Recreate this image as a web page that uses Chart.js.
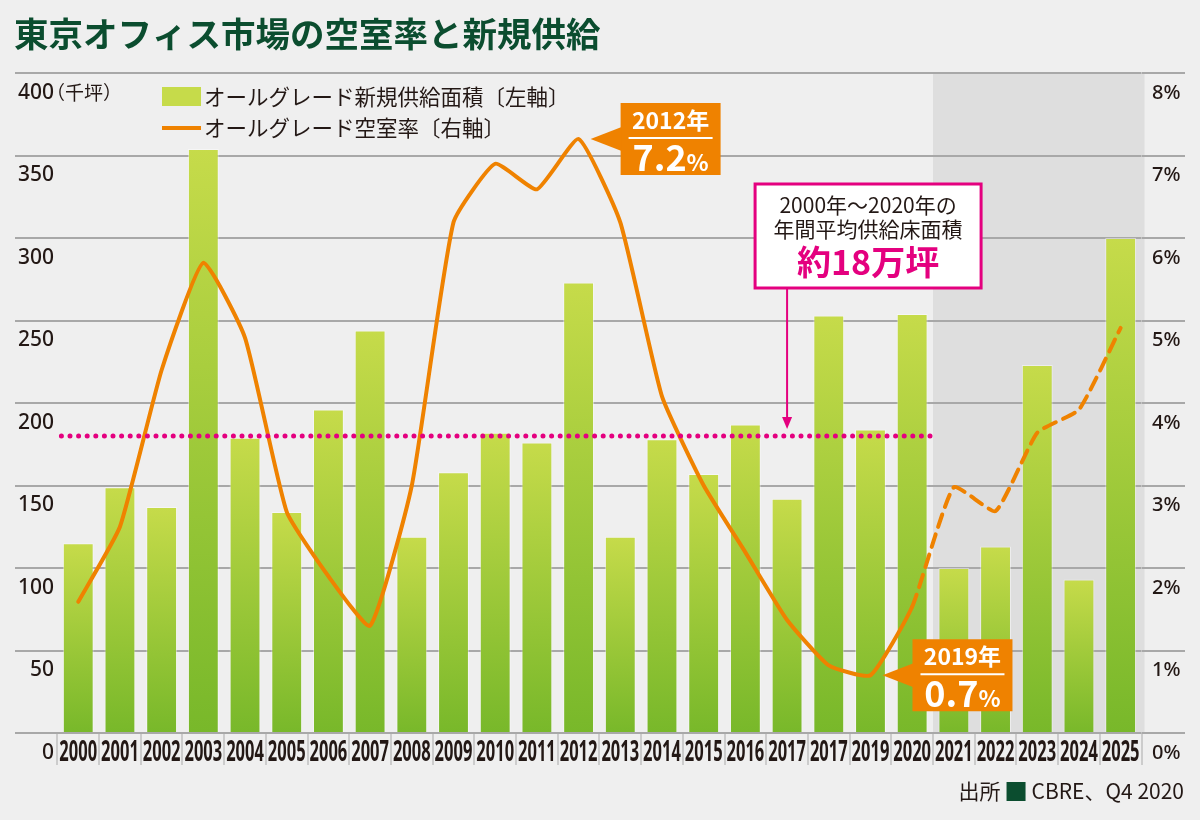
<!DOCTYPE html>
<html>
<head>
<meta charset="utf-8">
<script src="https://cdn.jsdelivr.net/npm/chart.js@4"></script>
<style>
  html, body { margin: 0; padding: 0; background: #efefef; }
  canvas { display: block; }
</style>
</head>
<body>
<canvas id="myChart" width="1200" height="820"></canvas>
<script>
// data
const categories = ['2000','2001','2002','2003','2004','2005','2006','2007','2008','2009','2010','2011','2012','2013','2014','2015','2016','2017','2017','2019','2020','2021','2022','2023','2024','2025'];
const supply = [115,149,137,354,179,134,196,244,119,158,182,176,273,119,178,157,187,142,253,184,254,100,113,223,93,300];   // 千坪
const vacancy = [1.59,2.50,4.40,5.70,4.79,2.68,1.90,1.30,3.00,6.19,6.90,6.59,7.20,6.19,4.08,3.00,2.19,1.37,0.82,0.70,1.53,2.98,2.69,3.64,3.92,4.91]; // %
const leftTicks = [0,50,100,150,200,250,300,350,400];
const rightTicks = [0,1,2,3,4,5,6,7,8];
const forecastFrom = 21;     // 2021 onwards shaded / dashed
const avgSupply = 180;       // 2000-2020 average
const avgUntil = 20;
const peakIdx = 12, lowIdx = 19;

const JP = '"Noto Sans CJK JP", "Noto Sans", sans-serif';
const SANS = '"Noto Sans", sans-serif';
const ORANGE = '#ef8200';
const PINK = '#e4007f';

Chart.defaults.color = '#231815';

function barGradient(context) {
  const chart = context.chart;
  const y = chart.scales.y;
  if (!y || !chart.chartArea) return '#9fcb3a';
  const top = y.getPixelForValue(context.raw);
  const bottom = y.getPixelForValue(0);
  const g = chart.ctx.createLinearGradient(0, top, 0, bottom);
  g.addColorStop(0, '#c6db4a');
  g.addColorStop(1, '#78b82a');
  return g;
}

function callout(ctx, px, py, label, big) {
  const bx = px + 42, by = py - 36, bw = 100, bh = 72;
  ctx.save();
  ctx.fillStyle = ORANGE;
  ctx.fillRect(bx, by, bw, bh);
  ctx.beginPath();
  ctx.moveTo(px + 12, py);
  ctx.lineTo(bx + 1, py - 12);
  ctx.lineTo(bx + 1, py + 12);
  ctx.closePath();
  ctx.fill();
  ctx.fillStyle = '#fff';
  ctx.textAlign = 'center';
  ctx.textBaseline = 'middle';
  ctx.font = 'bold 23px ' + JP;
  ctx.fillText(label, bx + bw / 2, by + 17);
  ctx.strokeStyle = '#fff';
  ctx.lineWidth = 2;
  ctx.beginPath();
  ctx.moveTo(bx + 8, by + 35);
  ctx.lineTo(bx + bw - 8, by + 35);
  ctx.stroke();
  ctx.font = 'bold 36px ' + JP;
  const w1 = ctx.measureText(big).width;
  ctx.font = 'bold 23px ' + JP;
  const w2 = ctx.measureText('%').width;
  const sx = bx + bw / 2 - (w1 + w2) / 2;
  ctx.textAlign = 'left';
  ctx.font = 'bold 36px ' + JP;
  ctx.fillText(big, sx, by + 54);
  ctx.font = 'bold 23px ' + JP;
  ctx.fillText('%', sx + w1, by + 59);
  ctx.restore();
}

const decor = {
  id: 'decor',
  beforeDraw(chart) {
    const {ctx, chartArea: a, scales: {x}} = chart;
    const bw = x.getPixelForValue(1) - x.getPixelForValue(0);
    const sx = x.getPixelForValue(forecastFrom) - bw / 2;
    ctx.save();
    ctx.fillStyle = '#dedede';
    ctx.fillRect(sx, a.top, a.right + 3 - sx, a.bottom - a.top);
    ctx.restore();
  },
  afterDatasetsDraw(chart) {
    const {ctx, scales: {x, y, y1}} = chart;
    const bw = x.getPixelForValue(1) - x.getPixelForValue(0);
    ctx.save();
    // average supply dotted line
    const ay = y.getPixelForValue(avgSupply);
    ctx.strokeStyle = PINK;
    ctx.lineWidth = 5;
    ctx.lineCap = 'round';
    ctx.setLineDash([0, 8.6]);
    ctx.beginPath();
    ctx.moveTo(x.getPixelForValue(0) - bw / 2 + 4, ay);
    ctx.lineTo(x.getPixelForValue(avgUntil) + bw / 2, ay);
    ctx.stroke();
    ctx.setLineDash([]);

    // pink note box + arrow
    const ax = x.getPixelForValue(17);
    const boxL = ax - 32, boxT = 184, boxW = 226, boxH = 104;
    ctx.lineWidth = 2;
    ctx.strokeStyle = PINK;
    ctx.beginPath();
    ctx.moveTo(ax, boxT + boxH);
    ctx.lineTo(ax, ay - 16);
    ctx.stroke();
    ctx.fillStyle = PINK;
    ctx.beginPath();
    ctx.moveTo(ax, ay - 7);
    ctx.lineTo(ax - 5, ay - 19);
    ctx.lineTo(ax + 5, ay - 19);
    ctx.closePath();
    ctx.fill();
    ctx.fillStyle = '#fff';
    ctx.fillRect(boxL, boxT, boxW, boxH);
    ctx.lineWidth = 3;
    ctx.strokeRect(boxL, boxT, boxW, boxH);
    ctx.textAlign = 'center';
    ctx.textBaseline = 'middle';
    ctx.fillStyle = '#231815';
    ctx.font = '21px ' + JP;
    ctx.fillText('2000年～2020年の', boxL + boxW / 2, boxT + 21);
    ctx.fillText('年間平均供給床面積', boxL + boxW / 2, boxT + 45);
    ctx.fillStyle = PINK;
    ctx.font = 'bold 34px ' + JP;
    ctx.fillText('約18万坪', boxL + boxW / 2, boxT + 78);
    ctx.restore();

    callout(ctx, x.getPixelForValue(peakIdx), y1.getPixelForValue(vacancy[peakIdx]), categories[peakIdx] + '年', vacancy[peakIdx].toFixed(1));
    callout(ctx, x.getPixelForValue(lowIdx), y1.getPixelForValue(vacancy[lowIdx]), categories[lowIdx] + '年', vacancy[lowIdx].toFixed(1));
  },
  afterDraw(chart) {
    const {ctx, scales: {x}} = chart;
    ctx.save();
    // condensed category labels, placed by the x scale
    ctx.fillStyle = '#231815';
    ctx.font = 'bold 28px ' + SANS;
    ctx.textAlign = 'center';
    ctx.textBaseline = 'middle';
    categories.forEach((c, i) => {
      ctx.save();
      ctx.translate(x.getPixelForValue(i), 753);
      ctx.scale(0.59, 1);
      ctx.fillText(c, 0, 0);
      ctx.restore();
    });
    // title
    ctx.textAlign = 'left';
    ctx.fillStyle = '#0b4d2f';
    ctx.font = 'bold 34.5px ' + JP;
    ctx.fillText('東京オフィス市場の空室率と新規供給', 14, 34);
    // unit
    ctx.fillStyle = '#231815';
    ctx.font = '19px ' + JP;
    ctx.fillText('（千坪）', 46, 93);
    // legend
    ctx.fillStyle = '#c6db4a';
    ctx.fillRect(162, 87, 39, 19);
    ctx.strokeStyle = ORANGE;
    ctx.lineWidth = 4;
    ctx.beginPath();
    ctx.moveTo(162, 128);
    ctx.lineTo(201, 128);
    ctx.stroke();
    ctx.fillStyle = '#231815';
    ctx.font = '21.5px ' + JP;
    ctx.fillText('オールグレード新規供給面積〔左軸〕', 204, 97);
    ctx.fillText('オールグレード空室率〔右軸〕', 204, 128);
    // source
    ctx.font = '21px ' + JP;
    ctx.textAlign = 'right';
    const src = 'CBRE、Q4 2020';
    const sw = ctx.measureText(src).width;
    ctx.fillText(src, 1184, 791);
    ctx.fillStyle = '#0b4d2f';
    ctx.fillRect(1184 - sw - 25, 782, 19, 19);
    ctx.fillStyle = '#231815';
    ctx.fillText('出所', 1184 - sw - 31, 791);
    ctx.restore();
  }
};

const myChart = new Chart(document.getElementById('myChart'), {
  type: 'bar',
  data: {
    labels: categories,
    datasets: [{
      type: 'line',
      label: 'オールグレード空室率〔右軸〕',
      data: vacancy,
      yAxisID: 'y1',
      order: 0,
      borderColor: ORANGE,
      borderWidth: 4,
      borderCapStyle: 'round',
      borderJoinStyle: 'round',
      pointRadius: 0,
      tension: 0.15,
      segment: {
        borderDash: ctx => ctx.p0DataIndex >= forecastFrom - 1 ? [13, 8] : undefined
      }
    }, {
      label: 'オールグレード新規供給面積〔左軸〕',
      data: supply,
      yAxisID: 'y',
      order: 1,
      backgroundColor: barGradient,
      borderColor: 'rgba(255,255,255,0.45)',
      borderWidth: 1,
      borderSkipped: 'bottom',
      categoryPercentage: 1,
      barPercentage: 0.74
    }]
  },
  plugins: [decor],
  options: {
    responsive: false,
    animation: false,
    layout: { padding: { left: 15, right: 15, top: 73, bottom: 55 } },
    plugins: {
      legend: { display: false },
      tooltip: { enabled: false }
    },
    scales: {
      x: {
        afterFit: s => { s.height = 32; },
        border: { display: false },
        grid: { drawOnChartArea: false, drawTicks: true, tickLength: 32, color: '#cccccc', lineWidth: 2, offset: true },
        ticks: { display: false, autoSkip: false }
      },
      y: {
        position: 'left',
        min: 0, max: 400,
        afterFit: s => { s.width = 42.4; },
        afterBuildTicks: s => { s.ticks = leftTicks.map(v => ({ value: v })); },
        border: { display: false },
        grid: { color: '#a8a8a8', lineWidth: 2, tickLength: 42.4 },
        ticks: { crossAlign: 'near', padding: -39, labelOffset: 20, font: { family: SANS, size: 21, weight: '500' } }
      },
      y1: {
        position: 'right',
        min: 0, max: 8,
        afterFit: s => { s.width = 43.5; },
        afterBuildTicks: s => { s.ticks = rightTicks.map(v => ({ value: v })); },
        border: { display: false },
        grid: { drawOnChartArea: false, color: '#a8a8a8', lineWidth: 2, tickLength: 43.5 },
        ticks: { crossAlign: 'near', padding: -33, labelOffset: 20, callback: v => v + '%', font: { family: SANS, size: 20, weight: '500' } }
      }
    }
  }
});
</script>
</body>
</html>
